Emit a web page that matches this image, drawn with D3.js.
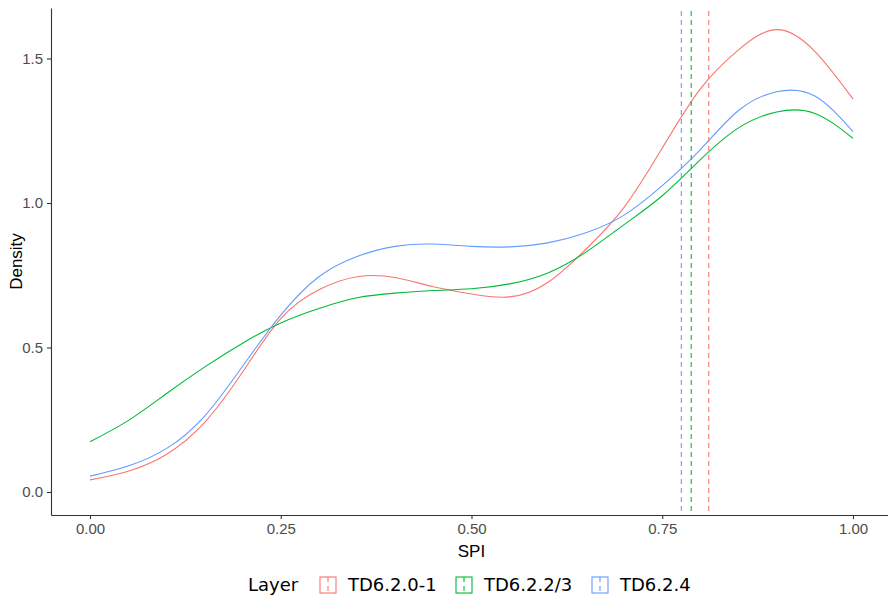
<!DOCTYPE html>
<html>
<head>
<meta charset="utf-8">
<script src="https://cdn.jsdelivr.net/npm/d3@7"></script>
<style>
  body { margin: 0; background: #fff; }
  text { font-family: "Liberation Sans", Arial, sans-serif; }
</style>
</head>
<body>
<div class="canvas"></div>
<script>
// data
const spi = [0, 0.05, 0.1, 0.15, 0.2, 0.25, 0.3, 0.35, 0.4, 0.45, 0.5,
  0.55, 0.6, 0.65, 0.7, 0.75, 0.8, 0.85, 0.9, 0.95, 1.0];
const layers = ["TD6.2.0-1", "TD6.2.2/3", "TD6.2.4"];
const densRed = [0.042, 0.072, 0.13, 0.24, 0.415, 0.60, 0.70, 0.745, 0.742, 0.71, 0.685,
  0.675, 0.725, 0.84, 0.985, 1.19, 1.395, 1.53, 1.60, 1.525, 1.36];
const densGreen = [0.174, 0.247, 0.34, 0.432, 0.515, 0.585, 0.635, 0.672, 0.688, 0.697, 0.703,
  0.72, 0.758, 0.83, 0.925, 1.025, 1.15, 1.26, 1.315, 1.31, 1.224];
const densBlue = [0.055, 0.09, 0.15, 0.262, 0.435, 0.612, 0.745, 0.815, 0.85, 0.858, 0.85,
  0.848, 0.862, 0.897, 0.958, 1.06, 1.185, 1.32, 1.385, 1.37, 1.247];
const means = [0.811, 0.788, 0.775];
const colors = ["#F8766D", "#00BA38", "#619CFF"];
const xTicks = [0, 0.25, 0.5, 0.75, 1.0];
const yTicks = [0, 0.5, 1.0, 1.5];

const width = 888, height = 597;
const margin = { top: 8, left: 51, right: 0, bottom: 82 };
const graphWidth = width - margin.left - margin.right;
const graphHeight = height - margin.top - margin.bottom;

const svg = d3.select(".canvas")
  .append("svg")
  .attr("width", width)
  .attr("height", height);

const graph = svg.append("g")
  .attr("transform", `translate(${margin.left},${margin.top})`);

// scales (ggplot style expansion)
const x = d3.scaleLinear().domain([-0.0511, 1.0459]).range([0, graphWidth]);
const y = d3.scaleLinear().domain([-0.0796, 1.6747]).range([graphHeight, 0]);

// density curves
const series = [densRed, densGreen, densBlue];
const line = d3.line()
  .x((d, i) => x(spi[i]))
  .y(d => y(d))
  .curve(d3.curveNatural);

graph.selectAll("path.dens")
  .data(series)
  .enter()
  .append("path")
  .attr("class", "dens")
  .attr("fill", "none")
  .attr("stroke", (d, i) => colors[i])
  .attr("stroke-width", 1.1)
  .attr("d", line);

// mean lines
graph.selectAll("line.mean")
  .data(means)
  .enter()
  .append("line")
  .attr("class", "mean")
  .attr("x1", d => x(d))
  .attr("x2", d => x(d))
  .attr("y1", 3)
  .attr("y2", graphHeight)
  .attr("stroke", (d, i) => colors[i])
  .attr("stroke-width", 1.1)
  .attr("stroke-dasharray", "5,4");

// axes
const xAxis = d3.axisBottom(x).tickValues(xTicks).tickFormat(d3.format(".2f"))
  .tickSizeInner(4).tickSizeOuter(0).tickPadding(4);
const yAxis = d3.axisLeft(y).tickValues(yTicks).tickFormat(d3.format(".1f"))
  .tickSizeInner(4).tickSizeOuter(0).tickPadding(4);

const xAxisGroup = graph.append("g")
  .attr("transform", `translate(0,${graphHeight})`)
  .call(xAxis);
const yAxisGroup = graph.append("g").call(yAxis);

[xAxisGroup, yAxisGroup].forEach(g => {
  g.select(".domain").attr("stroke", "#333").attr("stroke-width", 1.1);
  g.selectAll(".tick line").attr("stroke", "#333").attr("stroke-width", 1.1);
  g.selectAll("text")
    .attr("fill", "#4d4d4d")
    .style("font-size", "15px")
    .style("font-family", "'Liberation Sans Narrow', 'Liberation Sans', Arial, sans-serif");
});

// axis titles
svg.append("text")
  .attr("x", margin.left + x(0.5))
  .attr("y", 557)
  .attr("text-anchor", "middle")
  .style("font-size", "17px")
  .text("SPI");

svg.append("text")
  .attr("transform", `translate(22,${margin.top + graphHeight / 2}) rotate(-90)`)
  .attr("text-anchor", "middle")
  .style("font-size", "17px")
  .text("Density");

// legend
const legend = svg.append("g")
  .style("font-family", "'DejaVu Sans', sans-serif");
legend.append("text")
  .attr("x", 248)
  .attr("y", 591)
  .style("font-size", "18px")
  .style("font-family", "'DejaVu Sans', sans-serif")
  .text("Layer");

const keyX = [320, 456, 592];
layers.forEach((name, i) => {
  const k = legend.append("g").attr("transform", `translate(${keyX[i]},577)`);
  k.append("rect")
    .attr("width", 16)
    .attr("height", 16)
    .attr("fill", "none")
    .attr("stroke", colors[i])
    .attr("stroke-width", 1.1);
  k.append("line")
    .attr("x1", 8).attr("x2", 8)
    .attr("y1", 0).attr("y2", 16)
    .attr("stroke", colors[i])
    .attr("stroke-width", 1.1)
    .attr("stroke-dasharray", "5,4");
  k.append("text")
    .attr("x", 28)
    .attr("y", 14)
    .style("font-size", "18px")
    .style("font-family", "'DejaVu Sans', sans-serif")
    .text(name);
});
</script>
</body>
</html>
